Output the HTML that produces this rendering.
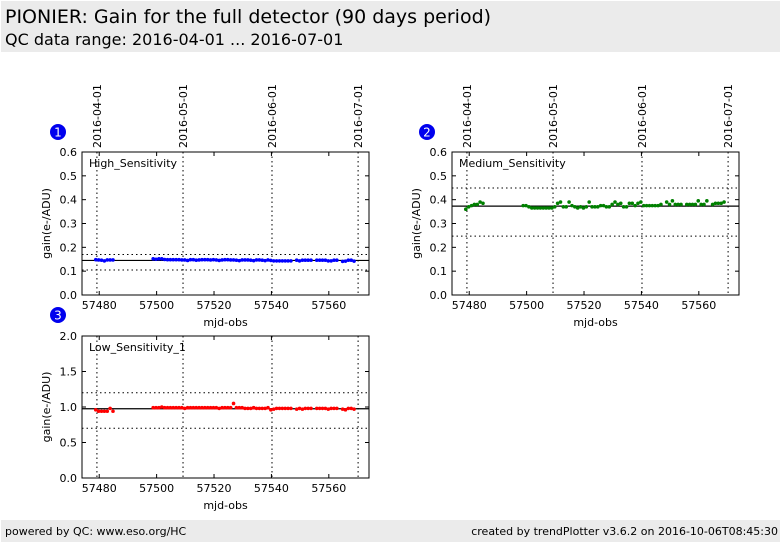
<!DOCTYPE html>
<html><head><meta charset="utf-8">
<style>
body{margin:0;background:#fff;font-family:"DejaVu Sans","Liberation Sans",sans-serif;}
#wrap{position:relative;width:782px;height:542px;overflow:hidden;}
.band{position:absolute;background:#ebebeb;}
</style></head>
<body>
<div id="wrap">
<div class="band" style="left:1px;top:1px;width:779px;height:51px;">
<div style="position:absolute;left:4px;top:5px;font-size:19px;color:#000;">PIONIER: Gain for the full detector (90 days period)</div>
<div style="position:absolute;left:4px;top:29px;font-size:16px;color:#000;">QC data range: 2016-04-01 ... 2016-07-01</div>
</div>
<div class="band" style="left:1px;top:520px;width:779px;height:22px;">
<div style="position:absolute;left:4px;top:5px;font-size:11px;">powered by QC: www.eso.org/HC</div>
<div style="position:absolute;right:2px;top:5px;font-size:11px;">created by trendPlotter v3.6.2 on 2016-10-06T08:45:30</div>
</div>
<svg id="chart" width="782" height="542" style="position:absolute;left:0;top:0"></svg>
</div>
<script>
const xTicks=[57480,57500,57520,57540,57560];
const dateLabels=["2016-04-01","2016-05-01","2016-06-01","2016-07-01"];
const dateMjd=[57479.2,57509.2,57540.2,57570.2];
const days=[57478.8,57479.8,57480.8,57481.8,57482.8,57483.8,57484.8,57498.8,57499.8,57500.8,57501.8,57502.8,57503.8,57504.8,57505.8,57506.8,57507.8,57508.8,57509.8,57510.8,57511.8,57512.8,57513.8,57514.8,57515.8,57516.8,57517.8,57518.8,57519.8,57520.8,57521.8,57522.8,57523.8,57524.8,57525.8,57526.8,57527.8,57528.8,57529.8,57530.8,57531.8,57532.8,57533.8,57534.8,57535.8,57536.8,57537.8,57538.8,57539.8,57540.8,57541.8,57542.8,57543.8,57544.8,57545.8,57546.8,57548.8,57549.8,57550.8,57551.8,57552.8,57553.8,57555.8,57556.8,57557.8,57558.8,57559.8,57560.8,57561.8,57562.8,57564.8,57565.8,57566.8,57567.8,57568.8];
const highVals=[0.148,0.147,0.146,0.143,0.147,0.147,0.147,0.152,0.150,0.152,0.152,0.149,0.148,0.148,0.148,0.148,0.148,0.147,0.147,0.145,0.148,0.148,0.146,0.147,0.148,0.148,0.148,0.147,0.148,0.147,0.145,0.147,0.148,0.148,0.147,0.147,0.146,0.144,0.147,0.147,0.147,0.146,0.144,0.147,0.147,0.146,0.144,0.147,0.145,0.143,0.143,0.143,0.143,0.143,0.143,0.143,0.146,0.143,0.146,0.146,0.146,0.146,0.146,0.146,0.146,0.146,0.143,0.143,0.146,0.146,0.141,0.142,0.146,0.146,0.142];
const medVals=[0.36,0.37,0.375,0.38,0.38,0.39,0.385,0.375,0.375,0.37,0.365,0.365,0.365,0.365,0.365,0.365,0.365,0.365,0.37,0.385,0.39,0.37,0.37,0.39,0.375,0.37,0.365,0.37,0.365,0.37,0.39,0.37,0.37,0.37,0.375,0.375,0.37,0.37,0.38,0.39,0.38,0.385,0.37,0.37,0.385,0.385,0.375,0.385,0.39,0.375,0.375,0.375,0.375,0.375,0.375,0.38,0.39,0.38,0.395,0.38,0.38,0.38,0.38,0.38,0.38,0.38,0.395,0.38,0.38,0.395,0.38,0.385,0.385,0.385,0.39];
const lowVals=[0.96,0.94,0.94,0.94,0.94,0.98,0.94,0.99,0.99,0.99,1.0,0.99,0.99,0.99,0.99,0.99,0.99,0.99,0.98,0.99,0.99,0.99,0.99,0.99,0.99,0.99,0.99,0.99,0.99,0.99,0.98,0.99,0.99,0.99,0.99,1.05,0.99,0.99,0.99,0.98,0.98,0.98,0.99,0.98,0.98,0.98,0.98,0.99,0.96,0.97,0.98,0.98,0.98,0.98,0.98,0.98,0.97,0.98,0.97,0.98,0.98,0.98,0.98,0.98,0.98,0.98,0.97,0.98,0.98,0.98,0.97,0.96,0.98,0.98,0.97];
const panels=[
 {name:"high",label:"High_Sensitivity",num:"1",x0:82,y0:152,w:287,h:143,ymax:0.6,yTicks:[0,0.1,0.2,0.3,0.4,0.5,0.6],dec:1,vals:highVals,color:"#0000ff",med:0.145,lo:0.105,hi:0.17,dates:true,badge:[58,132]},
 {name:"medium",label:"Medium_Sensitivity",num:"2",x0:452,y0:152,w:287,h:143,ymax:0.6,yTicks:[0,0.1,0.2,0.3,0.4,0.5,0.6],dec:1,vals:medVals,color:"#008000",med:0.373,lo:0.247,hi:0.449,dates:true,badge:[427,132]},
 {name:"low",label:"Low_Sensitivity_1",num:"3",x0:82,y0:336,w:287,h:142,ymax:2.0,yTicks:[0,0.5,1.0,1.5,2.0],dec:1,vals:lowVals,color:"#ff0000",med:0.975,lo:0.70,hi:1.20,dates:false,badge:[58,315]}
];
const XMIN=57474,XMAX=57574;
const svg=document.getElementById('chart');
const NS="http://www.w3.org/2000/svg";
function mk(tag,attrs,parent){const e=document.createElementNS(NS,tag);for(const k in attrs)e.setAttribute(k,attrs[k]);(parent||svg).appendChild(e);return e;}
panels.forEach(p=>{
 const g=mk('g',{});
 
 
 const X=v=>p.x0+(v-XMIN)/(XMAX-XMIN)*p.w;
 const Y=v=>p.y0+p.h-(v/p.ymax)*p.h;
 mk('rect',{x:p.x0,y:p.y0,width:p.w,height:p.h,fill:"#fff",stroke:"none"},g);
 dateMjd.forEach((d,i)=>{
  const l=mk('line',{x1:X(d),x2:X(d),y1:p.y0,y2:p.y0+p.h,stroke:"#000","stroke-dasharray":"1.5,3","stroke-width":1},g);
  
  
  if(p.dates){
   const t=mk('text',{x:0,y:0,transform:`translate(${X(d)+4},${p.y0-4}) rotate(-90)`,"font-size":11,"font-family":"DejaVu Sans, sans-serif"},g);
   t.textContent=dateLabels[i];
   
   
  }
 });
 [p.lo,p.hi].forEach(v=>{
  const l=mk('line',{x1:p.x0,x2:p.x0+p.w,y1:Y(v),y2:Y(v),stroke:"#000","stroke-dasharray":"1.5,3"},g);
  
  
 });
 const ml=mk('line',{x1:p.x0,x2:p.x0+p.w,y1:Y(p.med),y2:Y(p.med),stroke:"#000","stroke-width":1.2},g);
 
 
 p.vals.forEach((v,i)=>{
  const c=mk('circle',{cx:X(days[i]),cy:Y(v),r:1.8,fill:p.color},g);
  
  
 });
 mk('rect',{x:p.x0,y:p.y0,width:p.w,height:p.h,fill:"none",stroke:"#000"},g);
 xTicks.forEach(v=>{
  mk('line',{x1:X(v),x2:X(v),y1:p.y0+p.h,y2:p.y0+p.h-4,stroke:"#000"},g);
  mk('line',{x1:X(v),x2:X(v),y1:p.y0,y2:p.y0+4,stroke:"#000"},g);
  const t=mk('text',{x:X(v),y:p.y0+p.h+14,"text-anchor":"middle","font-size":11},g);
  t.textContent=v;
  
  
 });
 p.yTicks.forEach(v=>{
  mk('line',{x1:p.x0,x2:p.x0+4,y1:Y(v),y2:Y(v),stroke:"#000"},g);
  mk('line',{x1:p.x0+p.w,x2:p.x0+p.w-4,y1:Y(v),y2:Y(v),stroke:"#000"},g);
  const t=mk('text',{x:p.x0-5,y:Y(v)+4,"text-anchor":"end","font-size":11},g);
  t.textContent=v.toFixed(p.dec);
  
  
 });
 const lab=mk('text',{x:p.x0+7,y:p.y0+15,"font-size":11},g);
 lab.textContent=p.label;
 
 
 const xt=mk('text',{x:p.x0+p.w/2,y:p.y0+p.h+31,"text-anchor":"middle","font-size":11},g);
 xt.textContent="mjd-obs";
 
 
 const yt=mk('text',{x:0,y:0,transform:`translate(${p.x0-32},${p.y0+p.h/2}) rotate(-90)`,"text-anchor":"middle","font-size":11},g);
 yt.textContent="gain(e-/ADU)";
 
 
 const b=mk('circle',{cx:p.badge[0],cy:p.badge[1],r:8,fill:"#0000ee"},g);
 
 
 const bt=mk('text',{x:p.badge[0],y:p.badge[1]+4.5,"text-anchor":"middle","font-size":12,fill:"#fff"},g);
 bt.textContent=p.num;
 
 
});
</script>
</body></html>
